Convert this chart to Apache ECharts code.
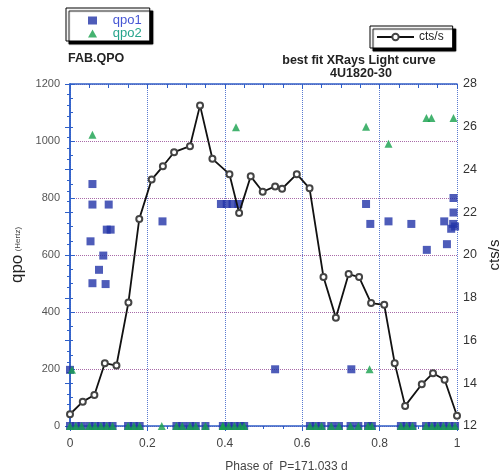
<!DOCTYPE html>
<html>
<head>
<meta charset="utf-8">
<script src="https://cdn.jsdelivr.net/npm/echarts@6/dist/echarts.min.js"></script>
<style>
html,body{margin:0;padding:0;background:#fff;}
#chart{width:499px;height:475px;}
</style>
</head>
<body>
<div id="chart"></div>
<script>
// Light curve (cts/s) vs phase
var lcPhase = [0, 0.033, 0.063, 0.09, 0.12, 0.151, 0.179, 0.211, 0.24, 0.269, 0.31, 0.336, 0.368, 0.412, 0.437, 0.467, 0.498, 0.530, 0.548, 0.586, 0.619, 0.655, 0.687, 0.72, 0.747, 0.778, 0.812, 0.839, 0.866, 0.909, 0.938, 0.968, 1.0];
var lcRate  = [12.55, 13.14, 13.45, 14.94, 14.83, 17.78, 21.69, 23.53, 24.15, 24.81, 25.09, 27.0, 24.50, 23.78, 21.97, 23.68, 22.96, 23.21, 23.1, 23.78, 23.12, 18.97, 17.07, 19.11, 18.97, 17.75, 17.67, 14.94, 12.94, 13.95, 14.47, 14.16, 12.48];

// qpo1 detections (Hz)
var qpo1Phase = [0, 0.053, 0.058, 0.058, 0.058, 0.075, 0.086, 0.092, 0.095, 0.105, 0.1, 0.239, 0.39, 0.405, 0.42, 0.435, 0.53, 0.727, 0.765, 0.776, 0.823, 0.882, 0.922, 0.967, 0.974, 0.991, 0.991, 0.99, 0.985, 0.995];
var qpo1Freq  = [197, 648, 849, 777, 501, 548, 598, 498, 689, 689, 777, 718, 779, 779, 779, 779, 199, 199, 779, 709, 718, 709, 618, 718, 638, 800, 749, 709, 692, 700];

// qpo2 detections (Hz)
var qpo2Phase = [0.005, 0.058, 0.429, 0.765, 0.774, 0.823, 0.921, 0.934, 0.991];
var qpo2Freq  = [197, 1022, 1048, 1050, 199, 990, 1081, 1081, 1081];

// phases with no QPO (plotted at 0 Hz)
var zeroPhase = [0, 0.015, 0.03, 0.05, 0.065, 0.08, 0.095, 0.11, 0.15, 0.165, 0.18, 0.275, 0.29, 0.31, 0.325, 0.35, 0.395, 0.41, 0.425, 0.44, 0.45, 0.62, 0.635, 0.65, 0.675, 0.695, 0.725, 0.745, 0.77, 0.78, 0.855, 0.87, 0.885, 0.92, 0.935, 0.95, 0.965, 0.98, 0.995];
var zeroPhase2 = [0.237, 0.395];

var xTicks = [0, 0.2, 0.4, 0.6, 0.8, 1];

function zip(a, b) { return a.map(function (v, i) { return [v, b[i]]; }); }

var q1 = zip(qpo1Phase, qpo1Freq).concat(zeroPhase.map(function (p) { return [p, 0]; }));
var q2 = zip(qpo2Phase, qpo2Freq).concat(zeroPhase.concat(zeroPhase2).map(function (p) { return [p, 0]; }));

var BLUE = '#2f5fc8';
var FONT = 'Liberation Sans, Arial, sans-serif';

var chart = echarts.init(document.getElementById('chart'), null, {renderer: 'canvas'});
chart.setOption({
  backgroundColor: '#fff',
  animation: false,
  textStyle: {fontFamily: FONT},
  grid: {left: 70, right: 42, top: 84, bottom: 49, outerBoundsMode: 'none', containLabel: false},
  legend: [
    {
      data: [
        {name: 'qpo1', icon: 'rect', textStyle: {color: '#4656d4'}},
        {name: 'qpo2', icon: 'triangle', textStyle: {color: '#27a48c'}}
      ],
      formatter: function (n) { return '   ' + n; },
      orient: 'vertical', left: 66, top: 8,
      padding: [6, 8, 1, 22],
      itemWidth: 9, itemHeight: 8, itemGap: 0,
      textStyle: {fontSize: 13, fontFamily: FONT, lineHeight: 11},
      backgroundColor: '#fff', borderColor: '#000', borderWidth: 1,
      shadowColor: '#000', shadowBlur: 1, shadowOffsetX: 3, shadowOffsetY: 3
    },
    {
      data: ['cts/s'],
      left: 370, top: 26,
      padding: [5, 9, 5, 6],
      itemWidth: 37, itemHeight: 8,
      textStyle: {fontSize: 12, color: '#222', fontFamily: FONT},
      backgroundColor: '#fff', borderColor: '#000', borderWidth: 1,
      shadowColor: '#000', shadowBlur: 1, shadowOffsetX: 3, shadowOffsetY: 3
    }
  ],
  graphic: [
    {type: 'text', left: 68, top: 52, style: {text: 'FAB.QPO', font: 'bold 12.5px ' + FONT, fill: '#222'}},
    {type: 'text', x: 359, y: 54, style: {text: 'best fit XRays Light curve', font: 'bold 12.5px ' + FONT, fill: '#222', textAlign: 'center'}},
    {type: 'text', x: 361, y: 67, style: {text: '4U1820-30', font: 'bold 12.5px ' + FONT, fill: '#222', textAlign: 'center'}}
  ],
  xAxis: [
    {
      type: 'value', position: 'bottom', min: 0, max: 1, interval: 0.2,
      name: 'Phase of  P=171.033 d', nameLocation: 'middle', nameGap: 35, nameMoveOverlap: false,
      nameTextStyle: {fontSize: 12, color: '#444', padding: [0, 0, 0, 46]},
      axisLine: {lineStyle: {color: BLUE, width: 1.5}},
      axisTick: {inside: false, length: 5, lineStyle: {color: BLUE}},
      minorTick: {show: true, splitNumber: 4, length: 3, lineStyle: {color: BLUE}},
      axisLabel: {fontSize: 12, color: '#444', margin: 12,
        formatter: function (v) { var r = Math.round(v * 10) / 10; return xTicks.indexOf(r) >= 0 ? String(r) : ''; }},
      splitLine: {show: true, lineStyle: {color: '#5a7ad0', type: 'dotted', width: 1}}
    },
    {
      type: 'value', position: 'top', min: 0, max: 1, interval: 0.2,
      axisLine: {lineStyle: {color: BLUE, width: 1.5}},
      axisTick: {inside: true, length: 5, lineStyle: {color: BLUE}},
      minorTick: {show: true, splitNumber: 4, length: 4, lineStyle: {color: BLUE}},
      axisLabel: {show: false},
      splitLine: {show: false}
    }
  ],
  yAxis: [
    {
      type: 'value', position: 'left', min: 0, max: 1200, interval: 200,
      name: '{a|qpo} {b|(Hertz)}', nameLocation: 'middle', nameGap: 44, nameRotate: 90, nameMoveOverlap: false,
      nameTextStyle: {rich: {a: {fontSize: 17, color: '#222', fontFamily: FONT}, b: {fontSize: 8, color: '#444', fontFamily: FONT}}},
      axisLine: {show: true, lineStyle: {color: BLUE, width: 1.5}},
      axisTick: {show: true, inside: true, length: 5, lineStyle: {color: BLUE}},
      minorTick: {show: true, splitNumber: 4, length: 3, lineStyle: {color: BLUE}},
      axisLabel: {fontSize: 11, color: '#555', margin: 10, formatter: function (v) { return String(v); }},
      splitLine: {show: true, lineStyle: {color: '#a86aa8', type: 'dotted', width: 1}}
    },
    {
      type: 'value', position: 'right', min: 12, max: 28, interval: 2,
      name: 'cts/s', nameLocation: 'middle', nameGap: 30, nameRotate: 90, nameMoveOverlap: false,
      nameTextStyle: {fontSize: 15, color: '#222'},
      axisLine: {show: true, lineStyle: {color: BLUE, width: 1.5}},
      axisTick: {show: true, inside: true, length: 5, lineStyle: {color: BLUE}},
      minorTick: {show: true, splitNumber: 4, length: 3, lineStyle: {color: BLUE}},
      axisLabel: {fontSize: 12.5, color: '#333', margin: 6},
      splitLine: {show: false}
    }
  ],
  series: [
    {
      name: 'qpo1', type: 'scatter', xAxisIndex: 0, yAxisIndex: 0,
      symbol: 'rect', symbolSize: 8, data: q1,
      itemStyle: {color: '#2233a8'}, z: 3
    },
    {
      name: 'qpo2', type: 'scatter', xAxisIndex: 0, yAxisIndex: 0,
      symbol: 'triangle', symbolSize: 8, data: q2,
      itemStyle: {color: '#17a04c'}, z: 4
    },
    {
      name: 'cts/s', type: 'line', xAxisIndex: 0, yAxisIndex: 1,
      data: zip(lcPhase, lcRate),
      symbol: 'emptyCircle', symbolSize: 6, showAllSymbol: true,
      lineStyle: {color: '#111', width: 1.8},
      itemStyle: {color: '#444', borderColor: '#444', borderWidth: 0.8},
      z: 5
    }
  ]
});
</script>
</body>
</html>
